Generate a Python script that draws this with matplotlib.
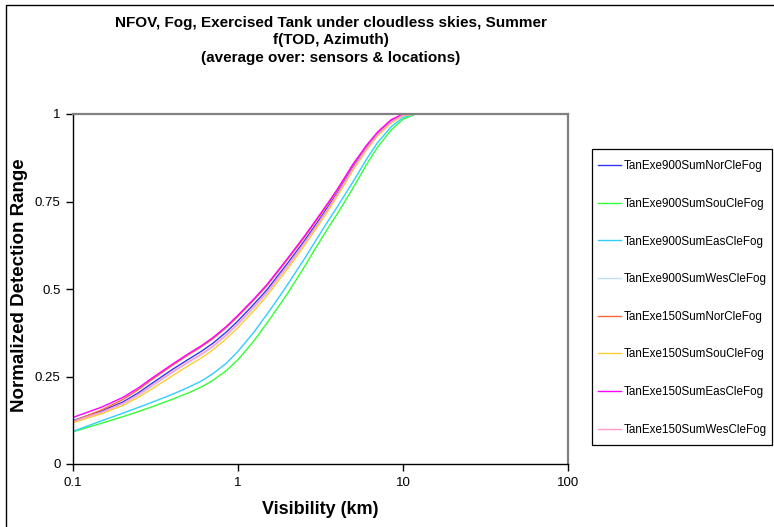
import numpy as np
import matplotlib.pyplot as plt
from matplotlib.patches import Rectangle

plt.rcParams['font.family'] = ['Liberation Sans', 'DejaVu Sans']

visibility = [0.1, 0.15, 0.2, 0.25, 0.3, 0.4, 0.5, 0.6, 0.7, 0.85, 1, 1.25, 1.5, 1.75,
              2, 2.5, 3, 3.5, 4, 5, 6, 7, 8.5, 10, 12, 100]

labels = ['TanExe900SumNorCleFog', 'TanExe900SumSouCleFog', 'TanExe900SumEasCleFog',
          'TanExe900SumWesCleFog', 'TanExe150SumNorCleFog', 'TanExe150SumSouCleFog',
          'TanExe150SumEasCleFog', 'TanExe150SumWesCleFog']
colors = ['#3333ff', '#33ff33', '#33ccff', '#c0dcf8', '#ff6633', '#ffcc33', '#ff00ff', '#ff99cc']

tan900_nor = [.124, .152, .177, .204, .230, .270, .299, .322, .344, .377, .409, .457, .498,
              .539, .574, .635, .688, .734, .775, .850, .904, .943, .980, .998, 1.0, 1.0]
tan900_sou = [.092, .117, .135, .150, .163, .185, .203, .220, .238, .267, .298, .352, .403,
              .448, .488, .560, .622, .673, .715, .790, .855, .905, .955, .985, 1.0, 1.0]
tan900_eas = [.093, .124, .145, .162, .176, .199, .219, .237, .257, .288, .322, .377, .428,
              .473, .513, .583, .643, .693, .735, .808, .870, .918, .964, .990, 1.0, 1.0]
tan900_wes = [.121, .147, .171, .196, .221, .260, .289, .311, .333, .366, .398, .446, .488,
              .529, .564, .626, .680, .727, .769, .845, .900, .940, .977, .996, 1.0, 1.0]
tan150_nor = [.122, .155, .184, .213, .241, .282, .312, .335, .357, .390, .422, .469, .510,
              .550, .585, .645, .697, .742, .782, .856, .908, .946, .983, .999, 1.0, 1.0]
tan150_sou = [.118, .144, .167, .191, .214, .252, .281, .303, .325, .358, .390, .438, .481,
              .522, .558, .621, .675, .722, .765, .841, .897, .937, .975, .995, 1.0, 1.0]
tan150_eas = [.133, .163, .190, .218, .245, .285, .315, .338, .360, .393, .425, .472, .513,
              .553, .588, .648, .700, .745, .785, .858, .910, .948, .984, 1.0, 1.0, 1.0]
tan150_wes = [.122, .149, .173, .199, .224, .263, .292, .314, .336, .369, .401, .449, .491,
              .532, .567, .629, .682, .729, .771, .846, .901, .941, .978, .997, 1.0, 1.0]

series = [tan900_nor, tan900_sou, tan900_eas, tan900_wes,
          tan150_nor, tan150_sou, tan150_eas, tan150_wes]

W, H = 774, 527
fig = plt.figure(figsize=(W / 100, H / 100), dpi=100)
ax = fig.add_axes([73 / W, 1 - 464 / H, 495 / W, 350 / H])

for vals, lab, col in zip(series, labels, colors):
    ax.plot(visibility, vals, color=col, lw=1.0, label=lab)

ax.set_xscale('log')
ax.set_xlim(0.1, 100)
ax.set_ylim(0, 1)
ax.set_xticks([0.1, 1, 10, 100])
ax.set_xticklabels(['0.1', '1', '10', '100'])
ax.xaxis.set_minor_locator(plt.NullLocator())
ax.set_yticks([0, 0.25, 0.5, 0.75, 1])
ax.set_yticklabels(['0', '0.25', '0.5', '0.75', '1'])
ax.tick_params(axis='both', direction='out', length=5, width=1, labelsize=9.5, pad=4)

for s in ['left', 'bottom']:
    ax.spines[s].set_color('black')
    ax.spines[s].set_linewidth(1.0)
for s in ['top', 'right']:
    ax.spines[s].set_color('#808080')
    ax.spines[s].set_linewidth(1.6)

fig.text(320 / W, 1 - 509 / H, 'Visibility (km)', ha='center', va='center',
         fontsize=13, fontweight='bold')
fig.text(20 / W, 1 - 285 / H, 'Normalized Detection Range', ha='center', va='center',
         rotation=90, fontsize=13.5, fontweight='bold')

fig.text(331 / W, 1 - 16 / H,
         'NFOV, Fog, Exercised Tank under cloudless skies, Summer\nf(TOD, Azimuth)\n(average over: sensors & locations)',
         ha='center', va='top', fontsize=11, fontweight='bold', linespacing=1.3)

# legend box drawn separately so its size matches the original
fig.patches.append(Rectangle((592 / W, 1 - 445 / H), 180 / W, 296 / H, transform=fig.transFigure,
                             fill=False, edgecolor='black', lw=0.9))
fig.legend(loc='center left', bbox_to_anchor=(598 / W, 1 - 298 / H), fontsize=8.4,
           frameon=False, handlelength=2.0, handletextpad=0.2, labelspacing=2.2,
           borderpad=0, borderaxespad=0)

fig.patches.append(Rectangle((6 / W, -0.05), 1.1, 1 - 5 / H + 0.05, transform=fig.transFigure,
                             fill=False, edgecolor='black', lw=1.0))

fig.savefig('out.png', dpi=100)
